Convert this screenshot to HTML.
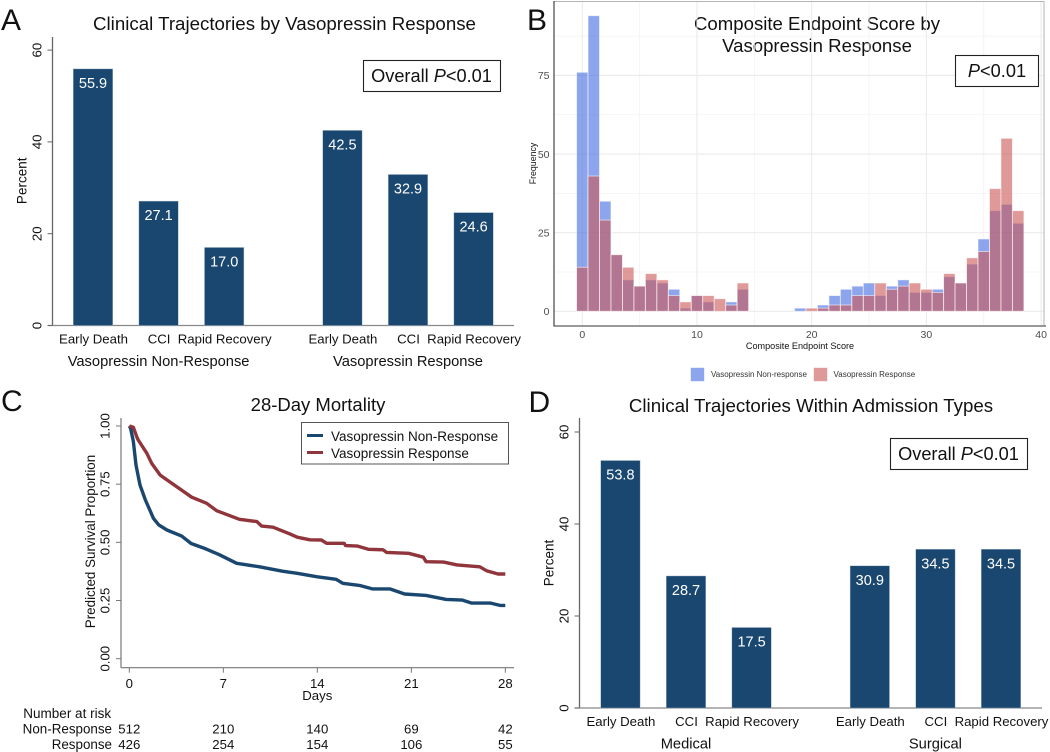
<!DOCTYPE html>
<html lang="en">
<head>
<meta charset="utf-8">
<title>Vasopressin Response Figure</title>
<style>
html,body{margin:0;padding:0;background:#fff;width:1050px;height:752px;overflow:hidden}
svg{display:block;font-family:"Liberation Sans",Arial,sans-serif}
text{fill:#111}
</style>
</head>
<body>
<svg id="fig" width="1050" height="752" viewBox="0 0 1050 752" xmlns="http://www.w3.org/2000/svg">
  <text x="1" y="30" font-size="30">A</text>
  <text x="527" y="30" font-size="30">B</text>
  <text x="1" y="411" font-size="30">C</text>
  <text x="528.5" y="412" font-size="30">D</text>

  <text x="284.5" y="30" font-size="18.7" text-anchor="middle">Clinical Trajectories by Vasopressin Response</text>
  <text x="817" y="30" font-size="18.6" text-anchor="middle">Composite Endpoint Score by</text>
  <text x="817" y="52" font-size="18.6" text-anchor="middle">Vasopressin Response</text>
  <text x="318" y="411" font-size="18.5" text-anchor="middle">28-Day Mortality</text>
  <text x="811" y="412" font-size="18.7" text-anchor="middle">Clinical Trajectories Within Admission Types</text>

  <g id="panelA"></g>
  <g id="panelB"></g>
  <g id="panelC"></g>
  <g id="panelD"></g>

  <g>
    <rect x="363.5" y="60.5" width="137" height="31" fill="#fff" stroke="#222" stroke-width="1.1"/>
    <text x="431.5" y="82" font-size="18.2" text-anchor="middle">Overall <tspan font-style="italic">P</tspan>&lt;0.01</text>
  </g>
  <g>
    <rect x="890.5" y="438.5" width="137" height="31" fill="#fff" stroke="#222" stroke-width="1.1"/>
    <text x="958.5" y="460" font-size="18.2" text-anchor="middle">Overall <tspan font-style="italic">P</tspan>&lt;0.01</text>
  </g>
  <g>
    <rect x="955.5" y="55.5" width="83" height="31" fill="#fff" stroke="#222" stroke-width="1.1"/>
    <text x="997" y="77" font-size="18.2" text-anchor="middle"><tspan font-style="italic">P</tspan>&lt;0.01</text>
  </g>

  <g>
    <rect x="690.5" y="367.5" width="14" height="14" fill="rgb(65,105,225)" fill-opacity="0.6" stroke="#fff" stroke-opacity="0.6"/>
    <text x="711" y="377" font-size="8" style="fill:#333">Vasopressin Non-response</text>
    <rect x="813.5" y="367.5" width="14" height="14" fill="rgb(203,85,85)" fill-opacity="0.6" stroke="#fff" stroke-opacity="0.6"/>
    <text x="833.5" y="377" font-size="8" style="fill:#333">Vasopressin Response</text>
  </g>

  <g>
    <rect x="301.5" y="422.5" width="207" height="41.5" fill="#fff" stroke="#555" stroke-width="1"/>
    <line x1="307" x2="323" y1="435.5" y2="435.5" stroke="#1a476f" stroke-width="3"/>
    <text x="331" y="441" font-size="13.5">Vasopressin Non-Response</text>
    <line x1="307" x2="323" y1="452.5" y2="452.5" stroke="#90353b" stroke-width="3"/>
    <text x="331" y="458" font-size="13.5">Vasopressin Response</text>
  </g>
</svg>
<script>
// Panel A data
const aCategories = ["Early Death", "CCI", "Rapid Recovery", "Early Death", "CCI", "Rapid Recovery"];
const aValues = [55.9, 27.1, 17.0, 42.5, 32.9, 24.6];
const aGroups = ["Vasopressin Non-Response", "Vasopressin Response"];
// Panel D data
const dCategories = ["Early Death", "CCI", "Rapid Recovery", "Early Death", "CCI", "Rapid Recovery"];
const dValues = [53.8, 28.7, 17.5, 30.9, 34.5, 34.5];
const dGroups = ["Medical", "Surgical"];
const percentTicks = [0, 20, 40, 60];
// Panel B data: score bins and frequency per bin
const scoreBins = [0,1,2,3,4,5,6,7,8,9,10,11,12,13,14,15,16,17,18,19,20,21,22,23,24,25,26,27,28,29,30,31,32,33,34,35,36,37,38];
const nonResponseFreq = [76,94,35,18,10,8,10,9,7,1,5,3,0,3,7,0,0,0,0,1,0,2,5,7,8,9,5,8,10,6,6,7,11,9,15,23,32,34,28];
const responseFreq = [14,43,29,18,14,8,12,10,5,3,5,5,4,2,9,0,0,0,0,0,1,1,2,2,5,5,9,7,8,9,7,6,12,9,17,19,39,55,32];
const freqTicks = [0, 25, 50, 75];
const freqMinorTicks = [12.5, 37.5, 62.5, 87.5];
const scoreTicks = [0, 10, 20, 30, 40];
const scoreMinorTicks = [5, 15, 25, 35];
// Panel C data
const kmNonDays = [0,0.1,0.3,0.5,0.8,1.2,1.8,2.2,2.8,3.9,4.6,5.7,6.7,8,9.7,11.4,12.5,14,15.4,15.9,17.2,18.1,19.4,20.5,22.1,23.6,24.8,25.5,26.9,27.6,28];
const kmNonSurv = [1,0.99,0.935,0.832,0.746,0.682,0.603,0.575,0.553,0.527,0.495,0.472,0.447,0.41,0.395,0.376,0.367,0.352,0.341,0.324,0.314,0.3,0.3,0.278,0.272,0.255,0.252,0.239,0.239,0.229,0.229];
const kmRespDays = [0,0.3,0.55,0.66,1.3,1.66,2.3,3,4.65,5.76,6.5,8.2,9.5,9.86,10.7,12,12.5,13.45,14.3,14.7,16,16.1,17,17.8,18.9,19.15,20.8,21.9,22.1,23.4,24.4,26.1,26.6,27.45,28];
const kmRespSurv = [1,0.995,0.954,0.94,0.883,0.84,0.789,0.76,0.694,0.668,0.636,0.599,0.589,0.57,0.565,0.535,0.522,0.511,0.51,0.496,0.496,0.486,0.484,0.47,0.468,0.457,0.453,0.436,0.417,0.415,0.403,0.395,0.378,0.364,0.364];
const dayTicks = [0, 7, 14, 21, 28];
const survTicks = [0, 0.25, 0.5, 0.75, 1];
const riskNon = [512, 210, 140, 69, 42];
const riskResp = [426, 254, 154, 106, 55];

const NS = "http://www.w3.org/2000/svg";
function mk(parent, tag, attrs, txt) {
  const e = document.createElementNS(NS, tag);
  for (const k in attrs) e.setAttribute(k, attrs[k]);
  if (txt !== undefined) e.textContent = txt;
  parent.appendChild(e);
  return e;
}
function rotText(parent, x, y, size, str, color) {
  const t = mk(parent, "text", {x: x, y: y, "font-size": size, "text-anchor": "middle", "dominant-baseline": "central", transform: "rotate(-90 " + x + " " + y + ")"}, str);
  if (color) t.style.fill = color;
  return t;
}

function barPanel(gid, o, cats, vals, groups) {
  const g = document.getElementById(gid);
  const y = v => o.y0 - v * o.k;
  const barX = i => o.x0 + o.groupGap * Math.floor(i / 3) + o.step * (i % 3);
  const axisY = mk(g, "line", {x1: o.ax, x2: o.ax, y1: o.top, y2: o.y0, stroke: "#666", "stroke-width": 1.3});
  
  
  const axisX = mk(g, "line", {x1: o.ax - 5, x2: o.right, y1: o.y0, y2: o.y0, stroke: "#888", "stroke-width": 1.3});
  
  
  percentTicks.forEach(t => {
    const tick = mk(g, "line", {x1: o.ax - 5, x2: o.ax, y1: y(t), y2: y(t), stroke: "#666", "stroke-width": 1});
    
    
    const lab = rotText(g, o.ax - 15.5, y(t), 13.3, String(t));
    
    
  });
  const yTitle = rotText(g, o.ax - 30.5, (y(0) + y(60)) / 2 - 7, 13.5, "Percent");
  
  
  vals.forEach((v, i) => {
    const bx = barX(i);
    const bar = mk(g, "rect", {x: bx, y: y(v), width: o.w, height: o.k * v, fill: "#1a476f", stroke: "#a9bccd", "stroke-width": 0.4});
    
    
    const val = mk(g, "text", {x: bx + o.w / 2, y: y(v) + 19, "font-size": 14.5, "text-anchor": "middle"}, v.toFixed(1));
    val.style.fill = "#fff";
    
    
    const cat = mk(g, "text", {x: bx + o.w / 2 + 0.5, y: o.y0 + 18, "font-size": 13.2, "text-anchor": "middle"}, cats[i]);
    
    
  });
  groups.forEach((name, j) => {
    const gl = mk(g, "text", {x: barX(j * 3 + 1) + o.w / 2, y: o.y0 + 40.5, "font-size": 14.7, "text-anchor": "middle"}, name);
    
    
  });
}
barPanel("panelA", {ax: 52.5, top: 37, y0: 325.5, k: 4.59, x0: 73.3, step: 65.6, groupGap: 249.4, w: 39.4, right: 514}, aCategories, aValues, aGroups);
barPanel("panelD", {ax: 579.5, top: 418, y0: 708, k: 4.6, x0: 600.7, step: 65.6, groupGap: 249.4, w: 39.4, right: 1042}, dCategories, dValues, dGroups);

// Panel B
(function () {
  const g = document.getElementById("panelB");
  const x = v => 582.3 + v * 11.47;
  const y = v => 311.3 - v * 3.145;
  const L = 554, R = 1044, T = 1.5, B = 326;
  freqMinorTicks.forEach(t => {
    const l = mk(g, "line", {x1: L, x2: R, y1: y(t), y2: y(t), stroke: "#f2f2f2", "stroke-width": 0.8});
    
    
  });
  scoreMinorTicks.forEach(t => {
    const l = mk(g, "line", {x1: x(t), x2: x(t), y1: T, y2: B, stroke: "#f2f2f2", "stroke-width": 0.8});
    
    
  });
  freqTicks.forEach(t => {
    const l = mk(g, "line", {x1: L, x2: R, y1: y(t), y2: y(t), stroke: "#ebebeb", "stroke-width": 1.1});
    
    
    const lab = mk(g, "text", {x: 549.5, y: y(t) + 3.8, "font-size": 10.5, "text-anchor": "end"}, String(t));
    lab.style.fill = "#4d4d4d";
    
    
  });
  scoreTicks.forEach(t => {
    const l = mk(g, "line", {x1: x(t), x2: x(t), y1: T, y2: B, stroke: "#ebebeb", "stroke-width": 1.1});
    
    
    const lab = mk(g, "text", {x: x(t), y: 338, "font-size": 10.5, "text-anchor": "middle"}, String(t));
    lab.style.fill = "#4d4d4d";
    
    
  });
  function bars(vals, color, name) {
    vals.forEach((v, i) => {
      if (!v) return;
      const b = mk(g, "rect", {x: x(scoreBins[i] - 0.5), y: y(v), width: x(1) - x(0), height: y(0) - y(v), fill: color, "fill-opacity": 0.6, stroke: "#fff", "stroke-opacity": 0.6, "stroke-width": 0.9});
      
      
    });
  }
  bars(nonResponseFreq, "rgb(65,105,225)", "histogram-bar-non-response");
  bars(responseFreq, "rgb(203,85,85)", "histogram-bar-response");
  const top = mk(g, "path", {d: "M" + L + " " + T + "H" + R + "V" + B, fill: "none", stroke: "#b5b5b5", "stroke-width": 1});
  
  
  const ax = mk(g, "path", {d: "M" + L + " 1V" + B + "H1046", fill: "none", stroke: "#333", "stroke-width": 1.1});
  
  
  const xt = mk(g, "text", {x: 800, y: 349, "font-size": 9.1, "text-anchor": "middle"}, "Composite Endpoint Score");
  
  
  const yt = rotText(g, 533, 163.5, 8.8, "Frequency");
  
  
})();

// Panel C
(function () {
  const g = document.getElementById("panelC");
  const x = d => 129.3 + d * 13.43;
  const y = s => 658.7 - s * 232.7;
  const axisY = mk(g, "line", {x1: 121, x2: 121, y1: 418, y2: 667.7, stroke: "#777", "stroke-width": 1.2});
  
  
  const axisX = mk(g, "line", {x1: 121, x2: 514, y1: 667.7, y2: 667.7, stroke: "#777", "stroke-width": 1.2});
  
  
  survTicks.forEach(s => {
    const t = mk(g, "line", {x1: 116, x2: 121, y1: y(s), y2: y(s), stroke: "#777", "stroke-width": 1});
    
    
    const lab = rotText(g, 105, y(s), 13.2, s.toFixed(2));
    
    
  });
  const yTitle = rotText(g, 90.5, 541.5, 13.4, "Predicted Survival Proportion");
  
  
  dayTicks.forEach((d, i) => {
    const t = mk(g, "line", {x1: x(d), x2: x(d), y1: 667.7, y2: 672.7, stroke: "#777", "stroke-width": 1});
    
    
    const lab = mk(g, "text", {x: x(d), y: 688, "font-size": 13.2, "text-anchor": "middle"}, String(d));
    
    
    const r1 = mk(g, "text", {x: x(d), y: 733.5, "font-size": 13.2, "text-anchor": "middle"}, String(riskNon[i]));
    
    
    const r2 = mk(g, "text", {x: x(d), y: 749, "font-size": 13.2, "text-anchor": "middle"}, String(riskResp[i]));
    
    
  });
  const days = mk(g, "text", {x: 317.3, y: 700, "font-size": 13.2, "text-anchor": "middle"}, "Days");
  
  
  const nr = mk(g, "text", {x: 23.3, y: 718, "font-size": 13.5}, "Number at risk");
  
  
  const rn = mk(g, "text", {x: 112, y: 733.5, "font-size": 13.4, "text-anchor": "end"}, "Non-Response");
  
  
  const rr = mk(g, "text", {x: 112, y: 749, "font-size": 13.4, "text-anchor": "end"}, "Response");
  
  
  function curve(days, surv, color, name) {
    const pts = days.map((d, i) => x(d).toFixed(1) + "," + y(surv[i]).toFixed(1)).join(" ");
    const c = mk(g, "polyline", {points: pts, fill: "none", stroke: color, "stroke-width": 3.4, "stroke-linejoin": "round"});
    
    
  }
  curve(kmNonDays, kmNonSurv, "#1a476f", "survival-curve-non-response");
  curve(kmRespDays, kmRespSurv, "#90353b", "survival-curve-response");
})();
</script>
</body>
</html>
